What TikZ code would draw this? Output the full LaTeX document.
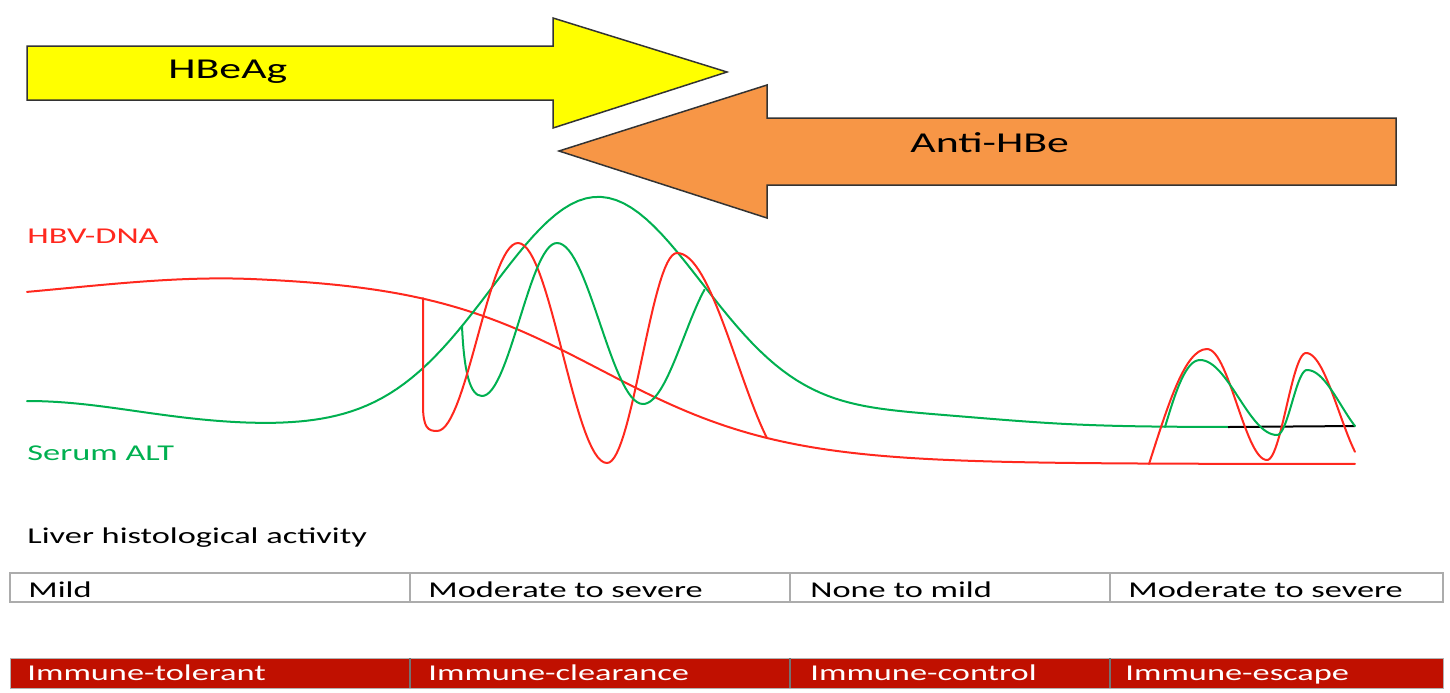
\documentclass[tikz,border=0pt]{standalone}
\usepackage{fontspec}
\setmainfont{Carlito}
\definecolor{hbeyellow}{RGB}{255,255,0}
\definecolor{antiorange}{RGB}{247,150,70}
\definecolor{dnared}{RGB}{255,40,30}
\definecolor{altgreen}{RGB}{0,176,80}
\definecolor{phasered}{RGB}{192,16,0}
\newcommand{\wide}[1]{\scalebox{1.52}[1]{#1}}

\begin{document}
\begin{tikzpicture}[x=0.5pt, y=-0.5pt,
    every node/.style={inner sep=0pt, anchor=base west},
    small/.style={font=\fontsize{11.3}{13}\selectfont},
    big/.style={font=\fontsize{14.4}{17}\selectfont},
    dna/.style={dnared, line width=1pt, line join=round, line cap=round},
    alt/.style={altgreen, line width=1pt, line join=round, line cap=round},
    arrowbox/.style={draw=black!80, line width=0.75pt, line join=miter},
    cell/.style={draw=gray!65, line width=0.8pt}]
  \useasboundingbox (0,0) rectangle (1450,692);

  \draw[arrowbox, fill=hbeyellow] (27,46) -- (553,46) -- (553,18) -- (727,72) -- (553,128) -- (553,100) -- (27,100) -- cycle;
  \draw[arrowbox, fill=antiorange] (1396,118) -- (767,118) -- (767,85) -- (559,151) -- (767,218) -- (767,185) -- (1396,185) -- cycle;
  \node (hbeag) [big] at (168,78) {\wide{HBeAg}};
  \node (antihbe) [big] at (910,152) {\wide{Anti-HBe}};

  \node (dnalabel) [small, text=dnared] at (27,243) {\wide{HBV-DNA}};
  \node (altlabel) [small, text=altgreen] at (27,460) {\wide{Serum ALT}};
  \node (liver) [small] at (27,543) {\wide{Liver histological activity}};

  \draw[dna] plot[domain=27:1355, samples=170]
    (\x, {464 - 189/(1+exp((\x-600)/91)) + 30*(1-exp(-((\x-255)/180)^2/2))*(\x<255)});
  \draw[alt] plot[domain=27:1228, samples=160]
    (\x, {427 - 26*exp(-min(12,((\x-27)/110)^2/2)) - 230*exp(-min(12,((\x-598)/106)^2/2)) - 12*exp(-min(12,((\x-900)/100)^2/2))});
  \draw[black, line width=1pt] (1228,427) -- (1355,426);

  \draw[dna] (423,298) -- (423,405) .. controls (423,428) and (428,431) .. (437,431);
  \draw[alt] (462,326) .. controls (464,372) and (470,396) .. (482,396);
  \draw[dna] (1149,464) .. controls (1168,405) and (1185,349) .. (1207,349);
  \draw[alt] (1165,427) .. controls (1176,390) and (1186,360) .. (1200,360);
  \foreach \xa/\ya/\xb/\yb/\t in {437/431/518/243/1, 518/243/607/463/1, 607/463/677/253/1, 677/253/797/470/0.75,
      1207/349/1267/460/1, 1267/460/1306/353/1, 1306/353/1372/470/0.742}
    \draw[dna] plot[domain=0:\t, samples=30] ({\xa+(\xb-\xa)*\x}, {\ya+(\yb-\ya)*(1-cos(180*\x))/2});
  \foreach \xa/\ya/\xb/\yb/\t in {482/396/557/243/1, 557/243/643/404/1, 643/404/725/270/0.75,
      1200/360/1277/435/1, 1277/435/1307/370/1, 1307/370/1375/440/0.706}
    \draw[alt] plot[domain=0:\t, samples=30] ({\xa+(\xb-\xa)*\x}, {\ya+(\yb-\ya)*(1-cos(180*\x))/2});

  \draw[cell] (10,573) rectangle (1443,602);
  \foreach \xd in {410,790,1110}
    \draw[cell] (\xd,573) -- (\xd,602);
  \node (mild) [small] at (28,597) {\wide{Mild}};
  \node (modsevere) [small] at (428,597) {\wide{Moderate to severe}};
  \node (nonemild) [small] at (810,597) {\wide{None to mild}};
  \node (modsevere2) [small] at (1128,597) {\wide{Moderate to severe}};

  \fill[phasered] (10,658) rectangle (1443,688);
  \draw[gray!60, line width=0.5pt] (10,658) rectangle (1443,688);
  \foreach \xd in {410,790,1110}
    \draw[black!55, line width=0.8pt] (\xd,658) -- (\xd,688);
  \node (tolerant) [small, text=white] at (27,680) {\wide{Immune-tolerant}};
  \node (clearance) [small, text=white] at (428,680) {\wide{Immune-clearance}};
  \node (control) [small, text=white] at (810,680) {\wide{Immune-control}};
  \node (escape) [small, text=white] at (1125,680) {\wide{Immune-escape}};
\end{tikzpicture}
\end{document}
